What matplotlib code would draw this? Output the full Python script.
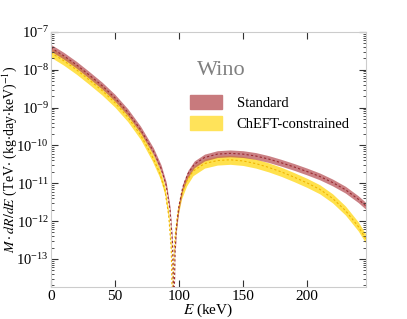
import numpy as np
import matplotlib
matplotlib.use("Agg")
from matplotlib import pyplot as plt
from matplotlib.patches import Patch

plt.rcParams['font.family'] = ['Liberation Serif', 'DejaVu Serif']
plt.rcParams['mathtext.fontset'] = 'stix'

# values (log10 of the rate), band centres
E_std = [0, 10, 20, 30, 40, 50, 60, 70, 80, 86, 90, 93, 95, 96, 97, 98, 100,
         103, 107, 112, 120, 130, 140, 150, 160, 170, 180, 190, 200, 210,
         220, 230, 240, 246]
log_std = [-7.42, -7.63, -7.87, -8.14, -8.42, -8.74, -9.12, -9.58, -10.15, -10.6,
           -11.05, -11.7, -12.6, -14.5, -12.8, -12.2, -11.6,
           -11.1, -10.75, -10.5, -10.32, -10.23, -10.21, -10.23, -10.28,
           -10.36, -10.46, -10.57, -10.69, -10.82, -10.98, -11.17, -11.42, -11.6]

E_chi = [0, 10, 20, 30, 40, 50, 60, 70, 79, 85, 89, 92, 94, 95, 96, 97, 99,
         102, 106, 111, 120, 130, 140, 150, 160, 170, 180, 190, 200, 210,
         220, 230, 240, 246]
log_chi = [-7.55, -7.76, -8.0, -8.27, -8.55, -8.87, -9.25, -9.72, -10.28, -10.73,
           -11.18, -11.85, -12.75, -14.5, -12.95, -12.4, -11.8,
           -11.3, -10.95, -10.68, -10.48, -10.4, -10.38, -10.41, -10.48,
           -10.58, -10.7, -10.84, -10.99, -11.16, -11.4, -11.72, -12.14, -12.47]

std_halfwidth = 0.09
chi_halfwidth = 0.12

E_std = np.array(E_std)
E_chi = np.array(E_chi)
log_std = np.array(log_std)
log_chi = np.array(log_chi)

fig = plt.figure(figsize=(4.07, 3.19), dpi=100)
ax = fig.add_axes([0.125, 0.1, 0.774, 0.8])

ax.fill_between(E_chi, 10**(log_chi - chi_halfwidth), 10**(log_chi + chi_halfwidth),
                color='#ffe14d', lw=0)
ax.plot(E_chi, 10**log_chi, color='#f0b400', lw=0.8, ls=(0, (2, 2)))
ax.fill_between(E_std, 10**(log_std - std_halfwidth), 10**(log_std + std_halfwidth),
                color='#b9565b', alpha=0.75, lw=0)
ax.plot(E_std, 10**log_std, color='#9a2a30', lw=0.8, ls=(0, (2, 2)))

ax.set_yscale('log')
ax.set_xlim(0, 246)
ax.set_ylim(1.8e-14, 1e-7)
ax.set_xticks([0, 50, 100, 150, 200])
ax.set_yticks([1e-7, 1e-8, 1e-9, 1e-10, 1e-11, 1e-12, 1e-13])
ax.tick_params(which='both', direction='in', top=True, right=True, labelsize=11,
               color='#333333', pad=2)
ax.tick_params(axis='y', labelsize=10.5, pad=1.5)
ax.tick_params(which='major', length=5)
ax.tick_params(which='minor', length=2.5)
for s in ax.spines.values():
    s.set_color('#cccccc')

ax.set_xlabel('$E$ (keV)', fontsize=11, labelpad=-1)
ax.set_ylabel(r'$M\cdot dR/dE$ (TeV$\cdot$ (kg$\cdot$day$\cdot$keV)$^{-1}$)',
              fontsize=10)
ax.yaxis.set_label_coords(-0.1, 0.5)

ax.text(0.54, 0.85, 'Wino', transform=ax.transAxes, fontsize=16, color='#808080',
        ha='center', va='center')

handles = [Patch(color='#c87a7d', label='Standard'),
           Patch(color='#ffe35a', label='ChEFT-constrained')]
ax.legend(handles=handles, loc='upper left', bbox_to_anchor=(0.40, 0.805), frameon=False,
          fontsize=10.5, handlelength=2.2, handleheight=1.1, handletextpad=1.0,
          labelspacing=0.45)

fig.savefig('out.png', dpi=100)
